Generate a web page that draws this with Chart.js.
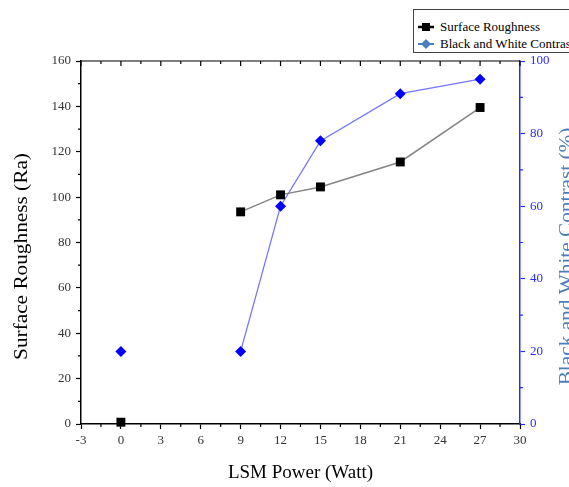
<!DOCTYPE html>
<html>
<head>
<meta charset="utf-8">
<script src="https://cdn.jsdelivr.net/npm/chart.js@4/dist/chart.umd.min.js"></script>
<style>
  html, body { margin: 0; padding: 0; background: #fff; overflow: hidden; }
  #wrap { position: relative; width: 569px; height: 487px; }
  #legend {
    position: absolute; left: 413px; top: 9px; width: 175px; height: 44px;
    border: 1px solid #444; background: #fff; box-sizing: border-box;
    font-family: 'Liberation Serif', 'Times New Roman', serif; font-size: 13px; color: #000;
    padding-top: 8px; white-space: nowrap;
  }
  #legend .row { height: 17px; line-height: 17px; display: flex; align-items: center; }
  #legend svg { margin: 0 6px 0 4px; }
</style>
</head>
<body>
<div id="wrap">
  <canvas id="lsmChart" width="569" height="487"></canvas>
  <div id="legend">
    <div class="row">
      <svg width="16" height="10"><line x1="0" y1="5" x2="16" y2="5" stroke="#000" stroke-width="2.5"/><rect x="4" y="1" width="8" height="8" fill="#000"/></svg>Surface Roughness
    </div>
    <div class="row">
      <svg width="16" height="10"><line x1="0" y1="5" x2="16" y2="5" stroke="#4a7ebb" stroke-width="2"/><polygon points="8,0 13,5 8,10 3,5" fill="#4a7ebb"/></svg>Black and White Contrast
    </div>
  </div>
</div>
<script>
const powers = [0, 9, 12, 15, 21, 27];
const roughness = [0.8, 93.5, 101, 104.5, 115.5, 139.5];
const contrast = [20, 20, 60, 78, 91, 95];

const serif = "'Liberation Serif', 'Times New Roman', serif";

function sideTitle(ctx, text, x, y, color) {
  ctx.save();
  ctx.translate(x, y);
  ctx.rotate(-Math.PI / 2);
  ctx.scale(1.12, 1);
  ctx.fillStyle = color;
  ctx.font = '19px ' + serif;
  ctx.textAlign = 'center';
  ctx.textBaseline = 'middle';
  ctx.fillText(text, 0, 0);
  ctx.restore();
}

// minor ticks, the top frame line and the two vertical titles
const frame = {
  id: 'frame',
  afterDraw(chart) {
    const { ctx, chartArea: a, scales } = chart;
    const x = scales.x, y = scales.y, y1 = scales.y1;
    ctx.save();
    ctx.lineWidth = 1.2;

    ctx.strokeStyle = '#000';
    ctx.beginPath();
    ctx.moveTo(a.left, a.top);
    ctx.lineTo(a.right, a.top);
    for (let v = -3; v <= 30; v += 1.5) {
      const px = x.getPixelForValue(v);
      const major = Math.abs(v % 3) < 0.01;
      ctx.moveTo(px, a.top);
      ctx.lineTo(px, a.top + (major ? 5 : 3));
      if (!major) {
        ctx.moveTo(px, a.bottom);
        ctx.lineTo(px, a.bottom + 3);
      }
    }
    for (let v = 10; v < 160; v += 20) {
      const py = y.getPixelForValue(v);
      ctx.moveTo(a.left, py);
      ctx.lineTo(a.left - 3, py);
    }
    ctx.stroke();

    ctx.strokeStyle = '#2a2aff';
    ctx.beginPath();
    for (let v = 10; v < 100; v += 20) {
      const py = y1.getPixelForValue(v);
      ctx.moveTo(a.right, py);
      ctx.lineTo(a.right + 3, py);
    }
    ctx.stroke();
    ctx.restore();

    const mid = (a.top + a.bottom) / 2 + 14;
    sideTitle(ctx, 'Surface Roughness (Ra)', 22, mid, '#000');
    sideTitle(ctx, 'Black and White Contrast (%)', 567, mid, '#4a7ebb');
  }
};

new Chart(document.getElementById('lsmChart'), {
  type: 'line',
  data: {
    datasets: [
      {
        label: 'Surface Roughness',
        data: powers.map((p, i) => ({ x: p, y: roughness[i] })),
        yAxisID: 'y',
        borderColor: '#858585',
        borderWidth: 1.5,
        pointStyle: 'rect',
        pointRadius: 6.3,
        pointBackgroundColor: '#000',
        pointBorderColor: '#000',
        pointBorderWidth: 0,
        segment: { borderColor: c => c.p0DataIndex === 0 ? 'transparent' : undefined },
        clip: false
      },
      {
        label: 'Black and White Contrast',
        data: powers.map((p, i) => ({ x: p, y: contrast[i] })),
        yAxisID: 'y1',
        borderColor: '#7575ff',
        borderWidth: 1.3,
        pointStyle: 'rectRot',
        pointRadius: 5.5,
        pointBackgroundColor: '#0000ff',
        pointBorderColor: '#0000ff',
        pointBorderWidth: 0,
        segment: { borderColor: c => c.p0DataIndex === 0 ? 'transparent' : undefined },
        clip: false
      }
    ]
  },
  options: {
    responsive: false,
    animation: false,
    layout: { padding: { top: 61, left: 0, right: 0, bottom: 0 } },
    plugins: { legend: { display: false }, tooltip: { enabled: false } },
    scales: {
      x: {
        type: 'linear',
        min: -3,
        max: 30,
        afterFit: s => { s.height = 63; },
        ticks: { stepSize: 3, color: '#333', font: { family: serif, size: 13 }, padding: 4 },
        grid: { drawOnChartArea: false, color: '#000', tickLength: 5, tickWidth: 1.2 },
        border: { color: '#000', width: 1.5 },
        title: { display: true, text: 'LSM Power (Watt)', color: '#000', font: { family: serif, size: 19 }, padding: { bottom: 3 } }
      },
      y: {
        position: 'left',
        min: 0,
        max: 160,
        afterFit: s => { s.width = 81; },
        ticks: { stepSize: 20, color: '#333', font: { family: serif, size: 13 }, padding: 5 },
        grid: { drawOnChartArea: false, color: '#000', tickLength: 5, tickWidth: 1.2 },
        border: { color: '#000', width: 1.5 }
      },
      y1: {
        position: 'right',
        min: 0,
        max: 100,
        afterFit: s => { s.width = 49; },
        ticks: { stepSize: 20, color: '#2a2aff', font: { family: serif, size: 13 }, padding: 5 },
        grid: { drawOnChartArea: false, color: '#2a2aff', tickLength: 5, tickWidth: 1.2 },
        border: { color: '#2a2aff', width: 1.5 }
      }
    }
  },
  plugins: [frame]
});
</script>
</body>
</html>
